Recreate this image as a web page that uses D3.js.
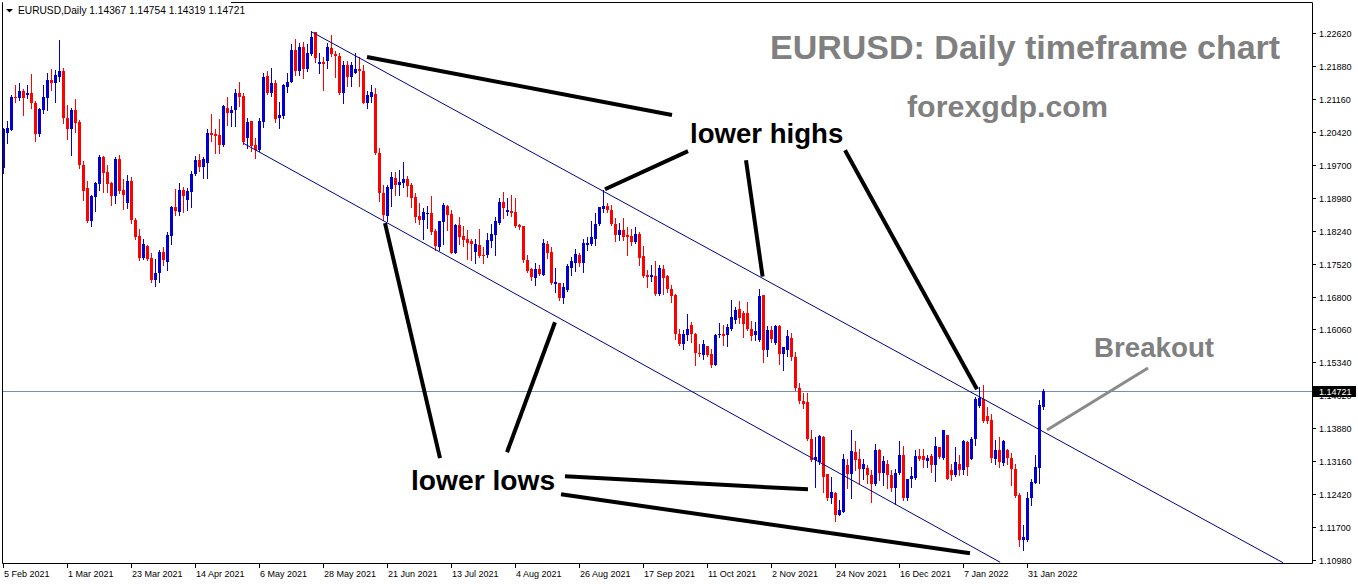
<!DOCTYPE html>
<html><head><meta charset="utf-8">
<script src="https://cdn.jsdelivr.net/npm/d3@7/dist/d3.min.js"></script>
<style>html,body{margin:0;padding:0;background:#fff;}svg{display:block;}</style>
</head><body>
<svg id="chart" width="1358" height="584"></svg>
<script>
// ---------------- DATA ----------------
const symbolTitle = "EURUSD,Daily";
const lastOHLC = ["1.14367", "1.14754", "1.14319", "1.14721"];
const lastPrice = 1.14721;

const opens = [
1.1963,1.2042,1.2048,1.2121,1.2119,1.2134,1.2124,1.2129,1.2108,1.2040,
1.2093,1.2119,1.2158,1.2151,1.2165,1.2177,1.2074,1.2051,1.2092,1.2066,
1.1970,1.1919,1.1847,1.1900,1.1928,1.1989,1.1956,1.1930,1.1902,1.1984,
1.1915,1.1887,1.1935,1.1849,1.1813,1.1766,1.1791,1.1765,1.1716,1.1731,
1.1779,1.1757,1.1813,1.1878,1.1867,1.1915,1.1893,1.1911,1.1950,1.1981,
1.1967,1.1975,1.2042,1.2039,1.2037,1.2015,1.2096,1.2086,1.2092,1.2129,
1.2123,1.2029,1.2068,1.2015,1.2004,1.2066,1.2167,1.2130,1.2152,1.2075,
1.2079,1.2143,1.2154,1.2224,1.2177,1.2230,1.2182,1.2216,1.2264,1.2193,
1.2197,1.2200,1.2228,1.2216,1.2211,1.2129,1.2191,1.2165,1.2173,1.2182,
1.2178,1.2108,1.2121,1.2127,1.1996,1.1908,1.1858,1.1917,1.1941,1.1926,
1.1930,1.1939,1.1926,1.1899,1.1858,1.1849,1.1864,1.1864,1.1824,1.1790,
1.1845,1.1880,1.1862,1.1776,1.1838,1.1813,1.1808,1.1803,1.1779,1.1794,
1.1771,1.1771,1.1803,1.1816,1.1843,1.1889,1.1867,1.1869,1.1866,1.1838,
1.1836,1.1760,1.1740,1.1720,1.1741,1.1727,1.1797,1.1779,1.1707,1.1709,
1.1676,1.1694,1.1744,1.1754,1.1771,1.1753,1.1794,1.1796,1.1808,1.1840,
1.1873,1.1880,1.1871,1.1841,1.1816,1.1827,1.1816,1.1813,1.1801,1.1819,
1.1769,1.1727,1.1723,1.1725,1.1685,1.1741,1.1726,1.1696,1.1683,1.1597,
1.1575,1.1595,1.1618,1.1597,1.1555,1.1550,1.1570,1.1554,1.1528,1.1595,
1.1598,1.1595,1.1609,1.1629,1.1653,1.1644,1.1644,1.1609,1.1595,1.1584,
1.1683,1.1562,1.1606,1.1578,1.1615,1.1553,1.1562,1.1588,1.1546,1.1477,
1.1450,1.1447,1.1366,1.1318,1.1315,1.1370,1.1289,1.1234,1.1246,1.1197,
1.1204,1.1307,1.1289,1.1337,1.1320,1.1298,1.1302,1.1285,1.1265,1.1340,
1.1290,1.1311,1.1285,1.1256,1.1290,1.1329,1.1234,1.1278,1.1280,1.1327,
1.1327,1.1317,1.1327,1.1307,1.1348,1.1324,1.1374,1.1296,1.1285,1.1311,
1.1296,1.1359,1.1322,1.1366,1.1438,1.1453,1.1416,1.1407,1.1322,1.1342,
1.1312,1.1342,1.1324,1.1300,1.1241,1.1142,1.1142,1.1234,1.1268,1.1302,
1.14367];

const highs = [
1.2052,1.2068,1.2125,1.2147,1.2152,1.2138,1.2147,1.2171,1.2112,1.2096,
1.2147,1.2173,1.2182,1.2180,1.2247,1.2184,1.2103,1.2096,1.2116,1.2070,
1.1979,1.1935,1.1904,1.1933,1.1992,1.1990,1.1970,1.1933,1.1989,1.1992,
1.1939,1.1948,1.1945,1.1853,1.1829,1.1806,1.1794,1.1775,1.1762,1.1783,
1.1789,1.1823,1.1880,1.1917,1.1930,1.1922,1.1919,1.1958,1.1990,1.1995,
1.1989,1.2050,1.2083,1.2050,1.2072,1.2103,1.2121,1.2101,1.2138,1.2154,
1.2129,1.2074,1.2068,1.2031,1.2074,1.2174,1.2178,1.2184,1.2158,1.2109,
1.2149,1.2173,1.2237,1.2248,1.2239,1.2243,1.2237,1.2267,1.2265,1.2217,
1.2208,1.2239,1.2258,1.2222,1.2217,1.2200,1.2200,1.2197,1.2217,1.2210,
1.2191,1.2134,1.2147,1.2140,1.2007,1.1926,1.1926,1.1954,1.1954,1.1959,
1.1978,1.1947,1.1930,1.1908,1.1887,1.1875,1.1880,1.1902,1.1830,1.1847,
1.1886,1.1882,1.1871,1.1841,1.1856,1.1836,1.1827,1.1808,1.1807,1.1830,
1.1789,1.1821,1.1841,1.1856,1.1897,1.1910,1.1897,1.1904,1.1897,1.1840,
1.1836,1.1771,1.1742,1.1753,1.1749,1.1806,1.1803,1.1789,1.1744,1.1710,
1.1709,1.1752,1.1768,1.1786,1.1775,1.1806,1.1811,1.1847,1.1865,1.1878,
1.1915,1.1887,1.1882,1.1853,1.1843,1.1853,1.1834,1.1830,1.1833,1.1823,
1.1791,1.1738,1.1749,1.1759,1.1749,1.1749,1.1727,1.1705,1.1685,1.1609,
1.1607,1.1641,1.1624,1.1600,1.1575,1.1585,1.1570,1.1563,1.1597,1.1622,
1.1617,1.1619,1.1672,1.1657,1.1670,1.1648,1.1668,1.1626,1.1624,1.1696,
1.1683,1.1615,1.1615,1.1617,1.1617,1.1569,1.1606,1.1599,1.1557,1.1488,
1.1466,1.1466,1.1386,1.1370,1.1374,1.1371,1.1289,1.1281,1.1248,1.1230,
1.1333,1.1322,1.1385,1.1361,1.1344,1.1322,1.1307,1.1296,1.1355,1.1344,
1.1327,1.1318,1.1296,1.1300,1.1361,1.1349,1.1278,1.1304,1.1342,1.1344,
1.1344,1.1329,1.1333,1.1370,1.1348,1.1386,1.1374,1.1311,1.1348,1.1329,
1.1364,1.1361,1.1370,1.1458,1.1480,1.1484,1.1436,1.1420,1.1363,1.1370,
1.1364,1.1344,1.1334,1.1311,1.1245,1.1175,1.1248,1.1278,1.1329,1.1451,
1.14754];

const lows = [
1.1953,1.2020,1.2048,1.2110,1.2114,1.2081,1.2118,1.2096,1.2024,1.2034,
1.2085,1.2092,1.2136,1.2110,1.2157,1.2064,1.2028,1.1992,1.2044,1.1963,
1.1893,1.1845,1.1836,1.1869,1.1915,1.1911,1.1911,1.1882,1.1887,1.1908,
1.1873,1.1876,1.1843,1.1808,1.1760,1.1762,1.1760,1.1712,1.1703,1.1712,
1.1749,1.1738,1.1796,1.1860,1.1860,1.1867,1.1871,1.1878,1.1948,1.1958,
1.1942,1.1942,1.2024,1.1998,1.1996,1.2013,1.2059,1.2057,1.2057,1.2101,
1.2016,1.2007,1.2001,1.1987,1.2001,1.2055,1.2127,1.2123,1.2066,1.2053,
1.2074,1.2132,1.2153,1.2169,1.2169,1.2162,1.2178,1.2213,1.2197,1.2173,
1.2135,1.2185,1.2212,1.2165,1.2127,1.2107,1.2146,1.2146,1.2173,1.2146,
1.2107,1.2096,1.2110,1.1995,1.1891,1.1849,1.1847,1.1880,1.1904,1.1904,
1.1922,1.1902,1.1878,1.1845,1.1841,1.1808,1.1832,1.1818,1.1782,1.1782,
1.1797,1.1827,1.1775,1.1775,1.1797,1.1792,1.1762,1.1760,1.1753,1.1768,
1.1755,1.1768,1.1789,1.1771,1.1841,1.1853,1.1860,1.1858,1.1834,1.1830,
1.1757,1.1734,1.1716,1.1705,1.1727,1.1727,1.1766,1.1707,1.1689,1.1672,
1.1666,1.1693,1.1727,1.1737,1.1747,1.1734,1.1782,1.1794,1.1794,1.1838,
1.1867,1.1867,1.1838,1.1802,1.1805,1.1805,1.1771,1.1794,1.1799,1.1749,
1.1723,1.1701,1.1715,1.1683,1.1683,1.1685,1.1690,1.1668,1.1587,1.1573,
1.1563,1.1585,1.1580,1.1528,1.1548,1.1543,1.1548,1.1525,1.1528,1.1591,
1.1573,1.1570,1.1607,1.1622,1.1622,1.1590,1.1607,1.1584,1.1584,1.1582,
1.1536,1.1548,1.1580,1.1576,1.1532,1.1517,1.1548,1.1539,1.1473,1.1444,
1.1433,1.1363,1.1317,1.1259,1.1311,1.1248,1.1230,1.1223,1.1184,1.1197,
1.1204,1.1256,1.1234,1.1296,1.1267,1.1278,1.1267,1.1226,1.1263,1.1274,
1.1263,1.1258,1.1251,1.1221,1.1289,1.1231,1.1231,1.1259,1.1278,1.1318,
1.1304,1.1304,1.1292,1.1273,1.1324,1.1322,1.1278,1.1274,1.1283,1.1285,
1.1289,1.1285,1.1320,1.1352,1.1436,1.1403,1.1400,1.1315,1.1311,1.1304,
1.1307,1.1310,1.1263,1.1237,1.1130,1.1119,1.1140,1.1219,1.1267,1.1267,
1.14319];

const closes = [
1.2051,1.2053,1.2121,1.2119,1.2134,1.2119,1.2130,1.2107,1.2040,1.2094,
1.2120,1.2158,1.2151,1.2169,1.2178,1.2075,1.2051,1.2092,1.2064,1.1970,
1.1913,1.1847,1.1902,1.1930,1.1989,1.1953,1.1928,1.1902,1.1984,1.1913,
1.1904,1.1935,1.1849,1.1811,1.1766,1.1796,1.1762,1.1716,1.1731,1.1779,
1.1760,1.1816,1.1878,1.1869,1.1915,1.1902,1.1913,1.1950,1.1981,1.1967,
1.1984,1.2042,1.2037,1.2034,1.2015,1.2101,1.2086,1.2092,1.2129,1.2121,
1.2021,1.2066,1.2013,1.2004,1.2068,1.2165,1.2129,1.2151,1.2072,1.2081,
1.2147,1.2153,1.2224,1.2177,1.2230,1.2182,1.2217,1.2253,1.2206,1.2197,
1.2193,1.2230,1.2215,1.2212,1.2129,1.2191,1.2165,1.2191,1.2182,1.2177,
1.2108,1.2124,1.2132,1.1996,1.1908,1.1860,1.1922,1.1944,1.1926,1.1933,
1.1939,1.1925,1.1897,1.1856,1.1849,1.1866,1.1865,1.1823,1.1791,1.1847,
1.1882,1.1860,1.1776,1.1838,1.1812,1.1805,1.1799,1.1797,1.1796,1.1770,
1.1770,1.1805,1.1818,1.1847,1.1889,1.1875,1.1871,1.1865,1.1836,1.1834,
1.1760,1.1736,1.1722,1.1741,1.1729,1.1799,1.1776,1.1709,1.1712,1.1676,
1.1701,1.1747,1.1759,1.1774,1.1753,1.1799,1.1799,1.1811,1.1840,1.1877,
1.1880,1.1871,1.1840,1.1816,1.1827,1.1812,1.1811,1.1801,1.1819,1.1765,
1.1725,1.1723,1.1727,1.1685,1.1742,1.1721,1.1696,1.1681,1.1597,1.1575,
1.1597,1.1609,1.1597,1.1555,1.1553,1.1575,1.1550,1.1528,1.1595,1.1598,
1.1592,1.1612,1.1635,1.1651,1.1632,1.1619,1.1609,1.1592,1.1604,1.1681,
1.1562,1.1606,1.1587,1.1615,1.1554,1.1569,1.1592,1.1546,1.1478,1.1450,
1.1442,1.1366,1.1318,1.1325,1.1372,1.1281,1.1234,1.1248,1.1197,1.1208,
1.1322,1.1289,1.1339,1.1318,1.1298,1.1310,1.1285,1.1265,1.1342,1.1290,
1.1317,1.1285,1.1256,1.1290,1.1329,1.1234,1.1278,1.1283,1.1327,1.1322,
1.1318,1.1324,1.1307,1.1349,1.1326,1.1385,1.1278,1.1285,1.1315,1.1296,
1.1361,1.1304,1.1366,1.1453,1.1455,1.1405,1.1405,1.1324,1.1342,1.1315,
1.1361,1.1324,1.1298,1.1239,1.1142,1.1149,1.1236,1.1270,1.1304,1.1440,
1.14721];

// x-axis labels: one every 16 daily bars
const dateLabels = ["5 Feb 2021","1 Mar 2021","23 Mar 2021","14 Apr 2021","6 May 2021",
  "28 May 2021","21 Jun 2021","13 Jul 2021","4 Aug 2021","26 Aug 2021","17 Sep 2021",
  "11 Oct 2021","2 Nov 2021","24 Nov 2021","16 Dec 2021","7 Jan 2022","31 Jan 2022"];
const dateLabelEvery = 16;

// price axis labels (top to bottom)
const priceTickLabels = ["1.22620","1.21880","1.21160","1.20420","1.19700","1.18980",
  "1.18240","1.17520","1.16800","1.16060","1.15340","1.14620","1.13880","1.13160",
  "1.12420","1.11700","1.10980"];
const priceTop = 1.22620, priceBottom = 1.10980;

// descending channel (bar index, price)
const channelUpper = [[77.25, 1.2264], [320, 1.1092]];
const channelLower = [[60, 1.2019], [249.3, 1.1093]];

// annotation pointer lines (bar index, price)
const pointerLines = [
  [[91, 1.2209], [167.25, 1.2081]],
  [[150.5, 1.1917], [171.25, 1.2001]],
  [[185.75, 1.1981], [189.9, 1.1724]],
  [[210.5, 1.2003], [243.5, 1.1475]],
  [[95.5, 1.1842], [109.25, 1.1323]],
  [[138, 1.1623], [126, 1.1336]],
  [[140.5, 1.1283], [201.25, 1.1254]],
  [[139.5, 1.1243], [241.75, 1.1113]]
];
const breakoutPointer = [[261, 1.1385], [286.25, 1.1522]];

// ---------------- DRAW ----------------
const svg = d3.select("#chart");
const frame = {left: 2, top: 2, right: 1312, bottom: 563};
const nBars = opens.length;
const x = d3.scaleLinear().domain([0, nBars - 1]).range([3, 3 + 4 * (nBars - 1)]);
const y = d3.scaleLinear().domain([priceBottom, priceTop]).range([560, 33]);
const FONT = "'Liberation Sans', Arial, sans-serif";

svg.append("rect").attr("width", 1358).attr("height", 584).attr("fill", "#fff");

svg.append("defs").append("clipPath").attr("id", "plotclip")
  .append("rect").attr("x", frame.left + 1).attr("y", frame.top + 1)
  .attr("width", frame.right - frame.left - 1).attr("height", frame.bottom - frame.top - 1);

// frame
svg.append("path")
  .attr("d", `M${frame.left + 0.5},${frame.bottom + 0.5}V${frame.top + 0.5}H${frame.right + 0.5}V${frame.bottom + 0.5}H${frame.left + 0.5}`)
  .attr("fill", "none").attr("stroke", "#000").attr("stroke-width", 1);

const plot = svg.append("g").attr("clip-path", "url(#plotclip)");

// current price line
plot.append("line")
  .attr("x1", frame.left).attr("x2", frame.right)
  .attr("y1", Math.round(y(lastPrice)) + 0.5).attr("y2", Math.round(y(lastPrice)) + 0.5)
  .attr("stroke", "#7d8ca6").attr("stroke-width", 1);

// candles
const bars = opens.map((o, i) => ({i, o, h: highs[i], l: lows[i], c: closes[i]}));
const RED = "#ff0000", BLUE = "#0000d2";
const cg = plot.append("g").attr("shape-rendering", "crispEdges");
cg.selectAll("rect.wick").data(bars).join("rect").attr("class", "wick")
  .attr("x", d => Math.round(x(d.i)))
  .attr("y", d => Math.round(y(d.h)))
  .attr("width", 1)
  .attr("height", d => Math.max(1, Math.round(y(d.l)) - Math.round(y(d.h)) + 1))
  .attr("fill", d => d.c >= d.o ? BLUE : RED);
cg.selectAll("rect.body").data(bars).join("rect").attr("class", "body")
  .attr("x", d => Math.round(x(d.i)) - 1)
  .attr("y", d => Math.round(y(Math.max(d.o, d.c))))
  .attr("width", 3)
  .attr("height", d => Math.max(1, Math.round(y(Math.min(d.o, d.c))) - Math.round(y(Math.max(d.o, d.c)))))
  .attr("fill", d => d.c >= d.o ? BLUE : RED);

// channel lines
const lineGen = d3.line().x(d => x(d[0])).y(d => y(d[1]));
[channelUpper, channelLower].forEach(seg => {
  plot.append("path").attr("d", lineGen(seg)).attr("fill", "none")
    .attr("stroke", "#00008b").attr("stroke-width", 1);
});

// annotation pointers
pointerLines.forEach(seg => {
  plot.append("path").attr("d", lineGen(seg)).attr("fill", "none")
    .attr("stroke", "#000").attr("stroke-width", 4);
});
plot.append("path").attr("d", lineGen(breakoutPointer)).attr("fill", "none")
  .attr("stroke", "#8a8a8a").attr("stroke-width", 3);

// annotation texts
const texts = [
  {t: "EURUSD: Daily timeframe chart", x: 770, y: 59, size: 34, color: "#808080"},
  {t: "forexgdp.com", x: 907, y: 117, size: 30.4, color: "#808080"},
  {t: "lower highs", x: 690, y: 143, size: 27.6, color: "#000"},
  {t: "lower lows", x: 411, y: 490, size: 28.2, color: "#000"},
  {t: "Breakout", x: 1094, y: 357, size: 27.7, color: "#808080"}
];
svg.selectAll("text.anno").data(texts).join("text").attr("class", "anno")
  .attr("x", d => d.x).attr("y", d => d.y)
  .attr("font-family", FONT).attr("font-weight", "bold")
  .attr("font-size", d => d.size).attr("fill", d => d.color)
  .text(d => d.t);

// price axis
const priceStep = (priceTop - priceBottom) / (priceTickLabels.length - 1);
const priceTicks = priceTickLabels.map((lab, k) => ({lab, v: priceTop - k * priceStep}));
const ya = svg.append("g");
ya.selectAll("line").data(priceTicks).join("line")
  .attr("x1", frame.right + 1).attr("x2", frame.right + 4)
  .attr("y1", d => Math.round(y(d.v)) + 0.5).attr("y2", d => Math.round(y(d.v)) + 0.5)
  .attr("stroke", "#000").attr("stroke-width", 1);
ya.selectAll("text").data(priceTicks).join("text")
  .attr("x", frame.right + 7).attr("y", d => Math.round(y(d.v)) + 3.5)
  .attr("font-family", FONT).attr("font-size", 9).attr("fill", "#000")
  .text(d => d.lab);

// current price tag
const py = Math.round(y(lastPrice));
svg.append("rect").attr("x", frame.right + 1).attr("y", py - 5).attr("width", 43).attr("height", 11).attr("fill", "#000");
svg.append("text").attr("x", frame.right + 7).attr("y", py + 3.5)
  .attr("font-family", FONT).attr("font-size", 9).attr("fill", "#fff").text(d3.format(".5f")(lastPrice));

// time axis
const dateTicks = dateLabels.map((lab, k) => ({lab, i: k * dateLabelEvery}));
const xa = svg.append("g");
xa.selectAll("line").data(dateTicks).join("line")
  .attr("x1", d => Math.round(x(d.i)) + 0.5).attr("x2", d => Math.round(x(d.i)) + 0.5)
  .attr("y1", frame.bottom + 1).attr("y2", frame.bottom + 5)
  .attr("stroke", "#000").attr("stroke-width", 1);
xa.selectAll("text").data(dateTicks).join("text")
  .attr("x", d => Math.round(x(d.i)) + 1).attr("y", 577)
  .attr("font-family", FONT).attr("font-size", 9).attr("fill", "#000")
  .text(d => d.lab);

// header label
const hdr = svg.append("g");
hdr.append("rect").attr("x", 3).attr("y", 0).attr("width", 228).attr("height", 17).attr("fill", "#fff");
hdr.append("path").attr("d", "M6,9H13L9.5,12.5Z").attr("fill", "#000");
hdr.append("text").attr("x", 18).attr("y", 14)
  .attr("font-family", FONT).attr("font-size", 10.2).attr("fill", "#000")
  .text(symbolTitle + "  " + lastOHLC.join(" "));
</script>
</body></html>
